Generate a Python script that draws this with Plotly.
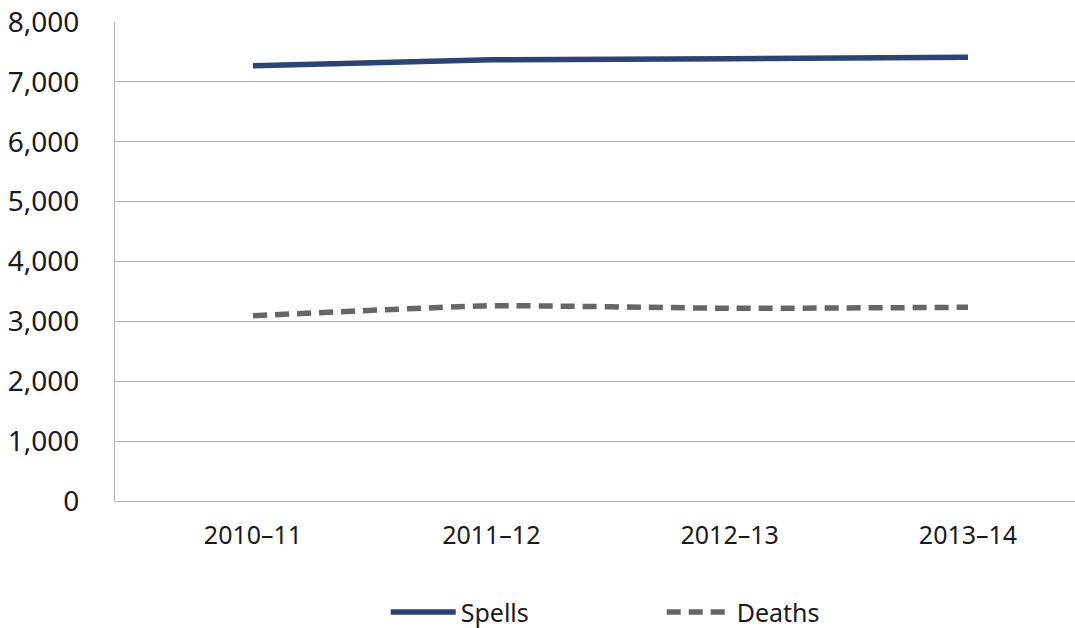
import plotly.graph_objects as go

# Chart values
years = ["2010–11", "2011–12", "2012–13", "2013–14"]
spells = [7270, 7370, 7385, 7410]
deaths = [3095, 3262, 3218, 3235]
y_ticks = [0, 1000, 2000, 3000, 4000, 5000, 6000, 7000, 8000]

xpos = list(range(len(years)))
base_font = "Noto Sans, Open Sans, sans-serif"

fig = go.Figure()

fig.add_trace(go.Scatter(
    x=xpos, y=spells,
    mode="lines",
    line=dict(color="#2c4374", width=5.5),
    name="Spells",
))

fig.add_trace(go.Scatter(
    x=xpos, y=deaths,
    mode="lines",
    line=dict(color="#666666", width=5.5, dash="14px,8px", shape="spline", smoothing=0.4),
    name="Deaths",
))

fig.update_layout(
    width=1075, height=628,
    paper_bgcolor="white", plot_bgcolor="white",
    margin=dict(l=115, r=0, t=22, b=127, autoexpand=False),
    font=dict(family=base_font, size=28, color="#1a1a1a"),
    showlegend=True,
    legend=dict(
        orientation="h",
        x=0.282, xanchor="left",
        y=-0.232, yanchor="middle",
        itemwidth=65,
        font=dict(family=base_font, size=25, color="#1a1a1a"),
        entrywidth=196,
    ),
    xaxis=dict(
        range=[-0.579, 3.449],
        tickmode="array", tickvals=xpos, ticktext=years,
        tickfont=dict(family=base_font, size=25, color="#1a1a1a"),
        showgrid=False, zeroline=False, showline=False,
        ticks="", ticklabelstandoff=17,
        automargin=False,
        fixedrange=True,
    ),
    yaxis=dict(
        range=[0, 8000],
        tickmode="array", tickvals=y_ticks,
        tickformat=",",
        showgrid=True, gridcolor="#b3b3b3", gridwidth=1,
        zeroline=True, zerolinecolor="#b3b3b3", zerolinewidth=1,
        showline=True, linecolor="#b3b3b3", linewidth=1,
        ticks="", ticklabelstandoff=29,
        automargin=False,
        fixedrange=True,
    ),
)

# drop the default 8px body margin so the figure fills the window exactly
fig.write_html(
    "out.html",
    config={"displayModeBar": False},
    post_script="document.body.style.margin='0';",
)
